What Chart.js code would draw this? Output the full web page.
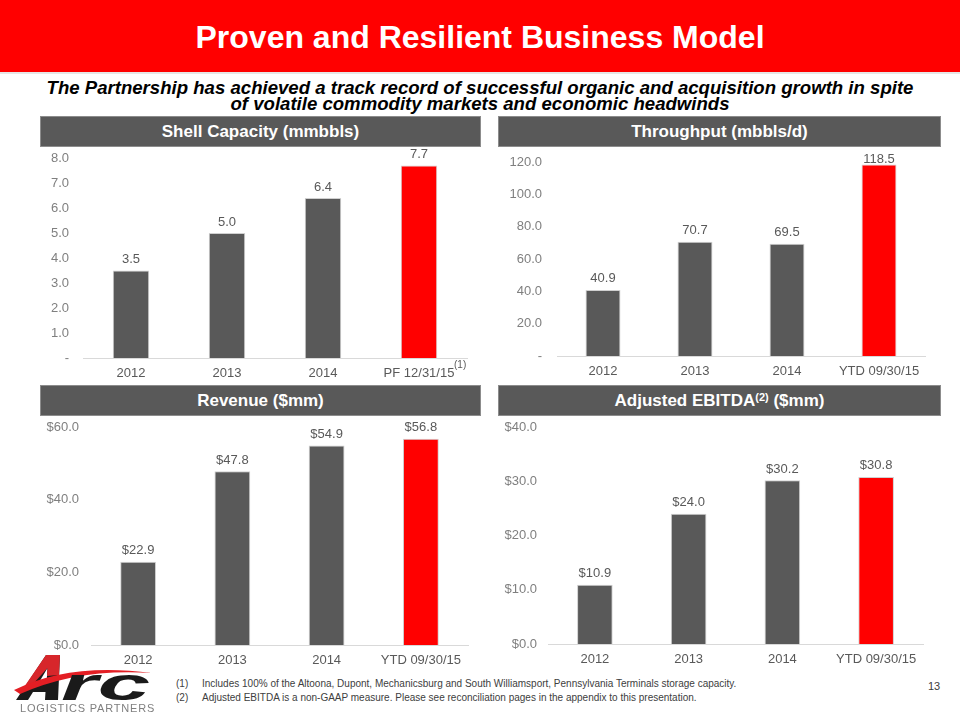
<!DOCTYPE html>
<html>
<head>
<meta charset="utf-8">
<script src="https://cdn.jsdelivr.net/npm/chart.js@4.4.1/dist/chart.umd.min.js"></script>
<style>
  body { margin:0; width:960px; height:720px; background:#fff; position:relative; overflow:hidden;
         font-family:"Liberation Sans", Arial, sans-serif; }
  .abs { position:absolute; }
  #banner { left:0; top:0; width:960px; height:72px; background:#ff0000; border-bottom:2px solid #e6e6e6; }
  #title { left:0; top:19px; width:960px; text-align:center; color:#fff; font-weight:bold; font-size:32px; }
  #sub { left:0; top:80px; width:960px; text-align:center; color:#000; font-weight:bold; font-style:italic;
         font-size:18.6px; line-height:16px; }
  .hdr { background:#595959; color:#fff; font-weight:bold; font-size:17px; text-align:center;
         box-sizing:border-box; border:1px solid #8c8c8c; }
  .hdr sup { font-size:11px; vertical-align:5px; line-height:0; }
  canvas { position:absolute; }
  #foot { left:176px; top:677px; font-size:10px; color:#404040; line-height:14px; }
  #foot span { display:inline-block; width:26px; }
</style>
</head>
<body>
<div id="banner" class="abs"></div>
<div id="title" class="abs">Proven and Resilient Business Model</div>
<div id="sub" class="abs">The Partnership has achieved a track record of successful organic and acquisition growth in spite<br>of volatile commodity markets and economic headwinds</div>

<div class="abs hdr" style="left:40px;top:116px;width:441px;height:31px;line-height:29px;">Shell Capacity (mmbbls)</div>
<div class="abs hdr" style="left:498px;top:116px;width:443px;height:31px;line-height:29px;">Throughput (mbbls/d)</div>
<div class="abs hdr" style="left:40px;top:385px;width:441px;height:31px;line-height:29px;">Revenue ($mm)</div>
<div class="abs hdr" style="left:498px;top:385px;width:443px;height:31px;line-height:29px;">Adjusted EBITDA<sup>(2)</sup> ($mm)</div>

<canvas id="c1" width="440" height="238" style="left:40px;top:147px;"></canvas>
<canvas id="c2" width="442" height="238" style="left:498px;top:147px;"></canvas>
<canvas id="c3" width="440" height="262" style="left:40px;top:415px;"></canvas>
<canvas id="c4" width="442" height="262" style="left:498px;top:415px;"></canvas>

<div class="abs" style="left:454px;top:359px;font-size:10px;color:#595959;">(1)</div>

<!-- logo -->
<svg class="abs" style="left:0;top:645px;" width="165" height="75" viewBox="0 645 165 75">
  <polygon points="16,700 46,655 60,655 58,700 45,700 45.5,692 33,692 28,700" fill="#1a1a1a"/>
  <polygon points="38,684 46.5,684 47.5,668" fill="#fff"/>
  <polygon points="22,690 46,655 60,655 59,675 47,676 47.5,668 33,684" fill="#d7262b"/>
  <path d="M14 690 Q70 662 152 673 Q78 668 20 694 Z" fill="#e31e24"/>
  <text x="61" y="700" font-family="Liberation Sans, Arial" font-weight="bold" font-style="italic"
        font-size="46" fill="#1a1a1a" textLength="89" lengthAdjust="spacingAndGlyphs">rc</text>
</svg>
<div class="abs" style="left:20px;top:702px;font-size:11px;color:#7f7f7f;letter-spacing:0.8px;">LOGISTICS PARTNERS</div>

<div id="foot" class="abs">
  <div><span>(1)</span>Includes 100% of the Altoona, Dupont, Mechanicsburg and South Williamsport, Pennsylvania Terminals storage capacity.</div>
  <div><span>(2)</span>Adjusted EBITDA is a non-GAAP measure. Please see reconciliation pages in the appendix to this presentation.</div>
</div>
<div class="abs" style="left:928px;top:680px;font-size:11px;color:#404040;">13</div>

<script>
// data
const capLabels = ['2012', '2013', '2014', 'PF 12/31/15'];
const capValues = [3.5, 5.0, 6.4, 7.7];

const tputLabels = ['2012', '2013', '2014', 'YTD 09/30/15'];
const tputValues = [40.9, 70.7, 69.5, 118.5];

const revLabels = ['2012', '2013', '2014', 'YTD 09/30/15'];
const revValues = [22.9, 47.8, 54.9, 56.8];

const ebitdaLabels = ['2012', '2013', '2014', 'YTD 09/30/15'];
const ebitdaValues = [10.9, 24.0, 30.2, 30.8];

const GREY = '#595959';
const RED = '#ff0000';
const FONT = '"Liberation Sans", Arial, sans-serif';

// value labels above bars
const barValues = {
  id: 'barValues',
  afterDatasetsDraw(chart, args, opts) {
    const ctx = chart.ctx;
    const meta = chart.getDatasetMeta(0);
    ctx.save();
    ctx.font = '13px ' + FONT;
    ctx.fillStyle = GREY;
    ctx.textAlign = 'center';
    ctx.textBaseline = 'middle';
    meta.data.forEach((bar, i) => {
      const v = chart.data.datasets[0].data[i];
      let y = bar.y - 11;
      if (opts.minY != null && y < opts.minY) y = opts.minY;
      ctx.fillText(opts.prefix + v.toFixed(1), bar.x, y);
    });
    ctx.restore();
  }
};

function barChart(id, labels, values, cfg) {
  const colors = values.map((v, i) => i === values.length - 1 ? RED : GREY);
  return new Chart(document.getElementById(id), {
    type: 'bar',
    data: {
      labels: labels,
      datasets: [{
        data: values,
        backgroundColor: colors,
        borderColor: '#d0d0d0',
        borderWidth: 1,
        categoryPercentage: 1,
        barPercentage: 0.38
      }]
    },
    options: {
      responsive: false,
      animation: false,
      layout: { padding: { top: cfg.top, right: cfg.right, left: 0, bottom: 0 } },
      plugins: {
        legend: { display: false },
        tooltip: { enabled: false },
        barValues: { prefix: cfg.prefix, minY: cfg.minY }
      },
      scales: {
        x: {
          grid: { display: false, drawTicks: false },
          border: { display: true, color: '#d9d9d9', width: 1 },
          ticks: { color: GREY, font: { family: FONT, size: 13 }, padding: 8, maxRotation: 0 },
          afterFit: s => { s.height = cfg.xh; s.paddingLeft = 0; s.paddingRight = 0; }
        },
        y: {
          min: 0, max: cfg.max,
          grid: { display: false, drawTicks: false },
          border: { display: false },
          ticks: {
            stepSize: cfg.step,
            color: '#7f7f7f',
            font: { family: FONT, size: 13 },
            padding: cfg.pad,
            callback: v => v === 0 && !cfg.prefix ? '-' : cfg.prefix + v.toFixed(1)
          },
          afterFit: s => { s.width = cfg.yw; s.paddingTop = 0; s.paddingBottom = 0; }
        }
      }
    },
    plugins: [barValues]
  });
}

barChart('c1', capLabels, capValues,
  { max: 8, step: 1, prefix: '', top: 11, right: 13, xh: 27, yw: 43, pad: 14 });
barChart('c2', tputLabels, tputValues,
  { max: 120, step: 20, prefix: '', top: 15, right: 15, xh: 29, yw: 59, pad: 15, minY: 12 });
barChart('c3', revLabels, revValues,
  { max: 60, step: 20, prefix: '$', top: 12, right: 12, xh: 32, yw: 51, pad: 12 });
barChart('c4', ebitdaLabels, ebitdaValues,
  { max: 40, step: 10, prefix: '$', top: 12, right: 17, xh: 33, yw: 50, pad: 11 });
</script>
</body>
</html>
